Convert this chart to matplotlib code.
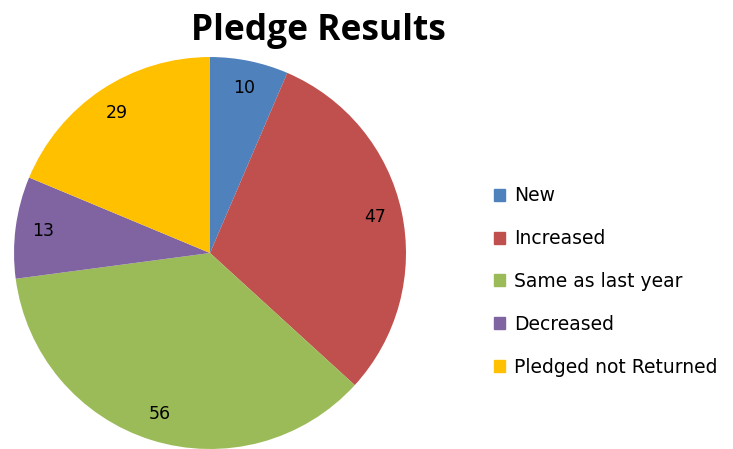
import matplotlib.pyplot as plt
from matplotlib.patches import Rectangle

categories = ['New', 'Increased', 'Same as last year', 'Decreased',
              'Pledged not Returned']
counts = [10, 47, 56, 13, 29]
colors = ['#4F81BD', '#C0504D', '#9BBB59', '#8064A2', '#FFC000']


def plot_pledges() -> None:
    fig = plt.figure(figsize=(7.33, 4.49), dpi=100)
    ax = fig.add_axes([0.0191, 0.0, 0.5348, 0.873])
    ax.pie(counts, colors=colors, startangle=90, counterclock=False,
           radius=1.0, autopct=lambda p: f'{p * sum(counts) / 100:.0f}',
           pctdistance=0.86, textprops=dict(fontsize=12.5, color='black',
                                            family='DejaVu Sans'))
    ax.set_xlim(-1, 1)
    ax.set_ylim(-1, 1)
    ax.set_aspect('equal')

    fig.text(0.434, 0.932, 'Pledge Results', ha='center', va='center',
             fontsize=25.5, fontweight='bold', family='Open Sans')

    handles = [Rectangle((0, 0), 1, 1, color=c) for c in colors]
    fig.legend(handles, categories, loc='center left',
               bbox_to_anchor=(0.674, 0.373), frameon=False,
               prop=dict(family='DejaVu Sans', size=13.5),
               handlelength=0.6, handleheight=0.6, handletextpad=0.45,
               labelspacing=1.27, borderpad=0, borderaxespad=0)

    fig.savefig('out.png', dpi=100)


def main():
    plot_pledges()


if __name__ == '__main__':
    main()
